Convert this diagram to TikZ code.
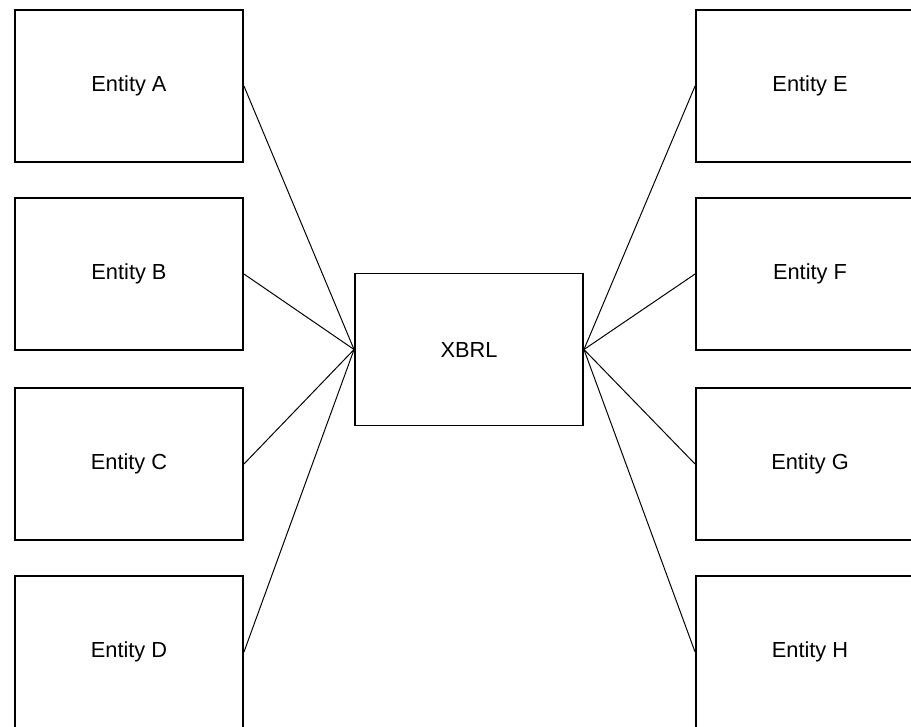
\documentclass[tikz,border=0pt]{standalone}
\usepackage{fontspec}
\setmainfont{Liberation Sans}
\usepackage{tikz}

\begin{document}
\begin{tikzpicture}[x=0.025cm,y=-0.025cm,
   caja/.style={draw,line width=1.3pt,minimum width=5.7cm,minimum height=3.8cm,
      inner sep=0pt,font=\fontsize{15.5}{18}\selectfont},
   enlace/.style={line width=0.7pt}]
   \useasboundingbox (0,0) rectangle (911,726);
   \clip (0,0) rectangle (911,726);
   %centro
   \node[caja] (xbrl) at (469,349.5) {XBRL};
   %entidades izquierda
   \foreach \n/\y in {A/86,B/274,C/464,D/652}
      \node[caja] (e\n) at (129,\y) {Entity \n};
   %entidades derecha
   \foreach \n/\y in {E/86,F/274,G/464,H/652}
      \node[caja] (e\n) at (810,\y) {Entity \n};
   %enlaces
   \foreach \n in {A,B,C,D}
      \draw[enlace] (e\n.east) -- (xbrl.west);
   \foreach \n in {E,F,G,H}
      \draw[enlace] (xbrl.east) -- (e\n.west);
\end{tikzpicture}
\end{document}
